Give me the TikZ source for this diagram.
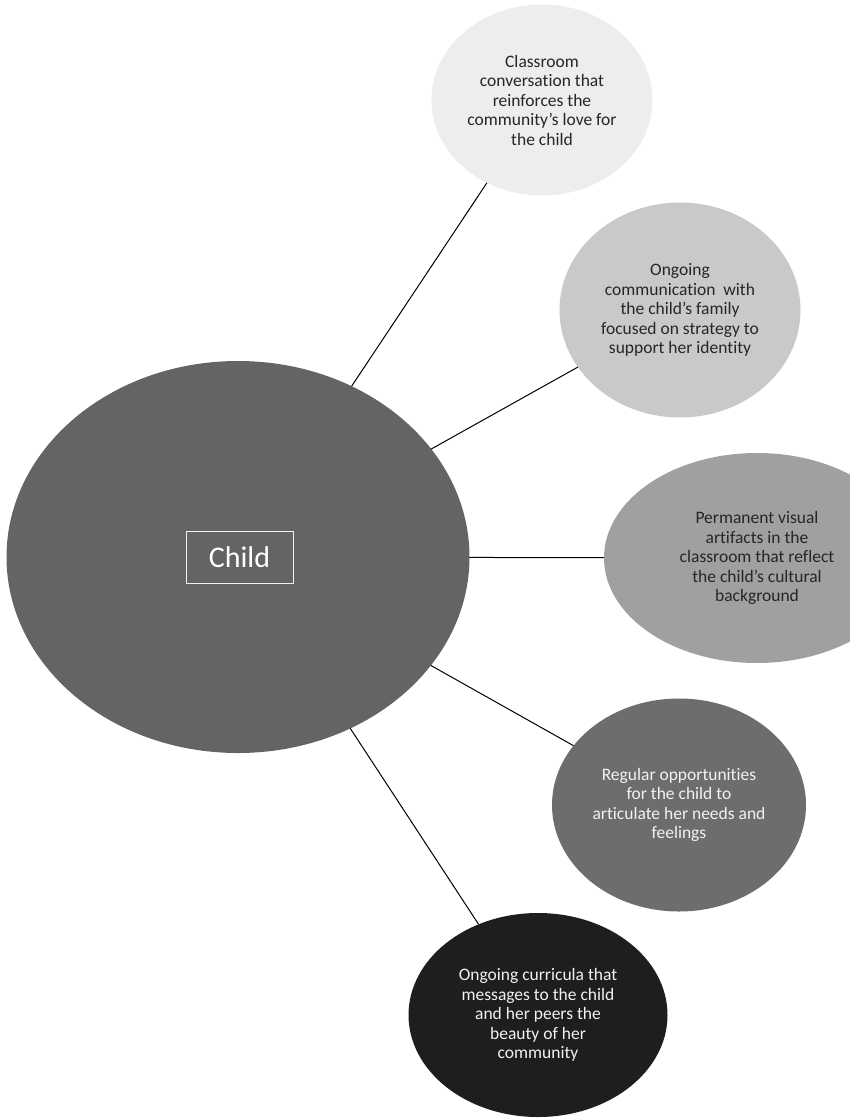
\documentclass[tikz,border=0pt]{standalone}
\usepackage{fontspec}
\setmainfont{Carlito}[Ligatures={NoCommon}]
\usetikzlibrary{shapes.geometric}
\definecolor{cA}{HTML}{EDEDED}
\definecolor{cB}{HTML}{C9C9C9}
\definecolor{cC}{HTML}{A0A0A0}
\definecolor{cD}{HTML}{6D6D6D}
\definecolor{cE}{HTML}{1E1E1E}
\definecolor{cChild}{HTML}{646464}
\definecolor{darktxt}{HTML}{262626}
\definecolor{lighttxt}{HTML}{F2F2F2}
\tikzset{
  bub/.style={ellipse, draw=none, inner sep=0pt, outer sep=0pt},
  txt/.style={align=center, inner sep=0pt, font=\fontsize{17.5}{19.5}\selectfont},
  dtxt/.style={txt, text=darktxt},
  ltxt/.style={txt, text=lighttxt},
  link/.style={draw=black, line width=1pt}
}
\begin{document}
\begin{tikzpicture}[x=1pt,y=-1pt]
\useasboundingbox (0,0) rectangle (850,1119);
\clip (0,0) rectangle (850,1119);
\fill[white] (0,0) rectangle (850,1119);
\path
 (238,557) coordinate (cc)
 (542,100) coordinate (p1)
 (680,310) coordinate (p2)
 (757,558) coordinate (p3)
 (679,805) coordinate (p4)
 (538,1015) coordinate (p5);
\node[bub, fill=cChild, minimum width=463, minimum height=392] (child) at (cc) {};
\node[bub, fill=cA, minimum width=221, minimum height=191,
  label={[dtxt]center:{Classroom\\conversation that\\reinforces the\\community’s love for\\the child}}] (e1) at (p1) {};
\node[bub, fill=cB, minimum width=241, minimum height=215,
  label={[dtxt]center:{Ongoing\\communication~ with\\the child’s family\\focused on strategy to\\support her identity}}] (e2) at (p2) {};
\node[bub, fill=cC, minimum width=306, minimum height=210,
  label={[dtxt]center:{Permanent visual\\artifacts in the\\classroom that reflect\\the child’s cultural\\background}}] (e3) at (p3) {};
\node[bub, fill=cD, minimum width=254, minimum height=213,
  label={[ltxt]center:{Regular opportunities\\for the child to\\articulate her needs and\\feelings}}] (e4) at (p4) {};
\node[bub, fill=cE, minimum width=259, minimum height=204,
  label={[ltxt]center:{Ongoing curricula that\\messages to the child\\and her peers the\\beauty of her\\community}}] (e5) at (p5) {};
\node[draw=lighttxt, line width=0.9pt, minimum width=107, minimum height=52, inner sep=0pt,
  text=white, font=\fontsize{30}{34}\selectfont] (childlbl) at (239.5,557) {Child};
\draw[link] (child) -- (e1);
\draw[link] (child) -- (e2);
\draw[link] (child) -- (e3);
\draw[link] (child) -- (e4);
\draw[link] (child) -- (e5);
\end{tikzpicture}
\end{document}
